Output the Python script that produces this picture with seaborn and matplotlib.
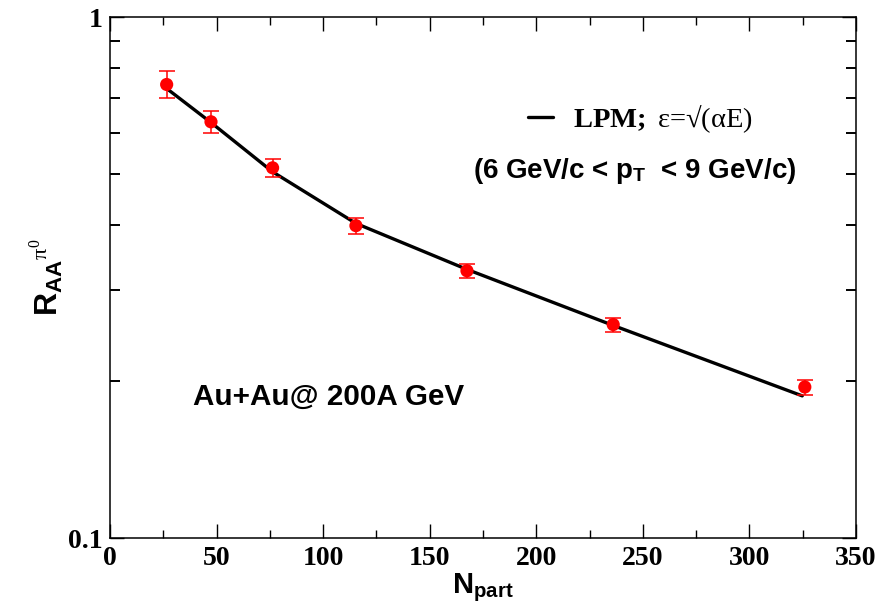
import matplotlib
matplotlib.use("Agg")
import matplotlib.pyplot as plt
from matplotlib.ticker import MultipleLocator, LogLocator, NullFormatter, FixedLocator
from matplotlib.lines import Line2D
import seaborn as sns
import pandas as pd

# PHENIX-like pi0 suppression vs centrality, 6 < pT < 9 GeV/c
npart = [26.6, 47.4, 76.3, 115.4, 167.5, 236.1, 326.0]
raa = [0.743, 0.630, 0.514, 0.398, 0.326, 0.257, 0.195]
raa_err = [0.044, 0.030, 0.020, 0.014, 0.010, 0.008, 0.0065]

# LPM energy-loss calculation, epsilon = sqrt(alpha E)
lpm_npart = [26.6, 47.4, 76.3, 115.4, 167.5, 236.1, 324.8]
lpm_raa = [0.730, 0.628, 0.505, 0.402, 0.328, 0.256, 0.1875]

xticks = [0, 50, 100, 150, 200, 250, 300, 350]
yticks = [0.1, 1]
ytick_labels = ["0.1", "1"]

sns.set_theme(style="ticks")
plt.rcParams["font.family"] = ["Liberation Sans", "DejaVu Sans"]
plt.rcParams["text.color"] = "black"
plt.rcParams["axes.labelcolor"] = "black"
plt.rcParams["xtick.color"] = "black"
plt.rcParams["ytick.color"] = "black"
plt.rcParams["mathtext.fontset"] = "custom"
plt.rcParams["mathtext.rm"] = "Liberation Serif"
plt.rcParams["mathtext.it"] = "Liberation Serif:italic"
plt.rcParams["mathtext.bf"] = "Liberation Serif:bold"
plt.rcParams["mathtext.sf"] = "Liberation Sans:bold"

fig = plt.figure(figsize=(8.79, 6.10), dpi=100)
ax = fig.add_axes([0.1251, 0.118, 0.8487, 0.8536])

df_lpm = pd.DataFrame({"npart": lpm_npart, "raa": lpm_raa})
sns.lineplot(data=df_lpm, x="npart", y="raa", ax=ax, color="black",
             linewidth=2.4, sort=False, legend=False)

ax.errorbar(npart, raa, yerr=raa_err, fmt="none", ecolor="red",
            elinewidth=1.1, capsize=5.5, capthick=1.1, zorder=3)
df_pts = pd.DataFrame({"npart": npart, "raa": raa})
sns.scatterplot(data=df_pts, x="npart", y="raa", ax=ax, color="red",
                s=90, edgecolor="none", zorder=4, legend=False)

ax.set_yscale("log")
ax.set_xlim(0, 350)
ax.set_ylim(0.1, 1)

ax.xaxis.set_major_locator(FixedLocator(xticks))
ax.xaxis.set_minor_locator(MultipleLocator(25))
ax.yaxis.set_major_locator(FixedLocator(yticks))
ax.set_yticklabels(ytick_labels)
ax.yaxis.set_minor_locator(LogLocator(base=10, subs=[2, 3, 4, 5, 6, 7, 8, 9]))
ax.yaxis.set_minor_formatter(NullFormatter())

ax.tick_params(which="both", direction="in", top=True, right=True,
               colors="black")
ax.tick_params(axis="x", which="major", length=10, width=1.0, pad=6)
ax.tick_params(axis="x", which="minor", length=5.5, width=1.0)
ax.tick_params(axis="y", which="major", length=10, width=1.0, pad=5)
ax.tick_params(axis="y", which="minor", length=7.5, width=1.4)

for lab in ax.get_xticklabels() + ax.get_yticklabels():
    lab.set_fontfamily("Liberation Serif")
    lab.set_fontweight("bold")
    lab.set_fontsize(20)
    lab.set_color("black")

for sp in ax.spines.values():
    sp.set_linewidth(1.1)
    sp.set_color("black")

ax.set_xlabel(r"$\mathsf{N}_{\mathsf{part}}$", fontsize=21, labelpad=0)
ax.set_ylabel(r"$\mathsf{R}_{\mathsf{AA}}{}^{\mathrm{\pi^{0}}}$",
              fontsize=23, labelpad=2)

handle = Line2D([], [], color="black", linewidth=2.4)
leg = ax.legend([handle], [r"$\mathbf{LPM;}$ ε=√(αE)"],
                loc="center left", bbox_to_anchor=(0.560, 0.806),
                frameon=False, borderpad=0, borderaxespad=0,
                handlelength=0.9, handletextpad=0.7,
                prop={"family": "Liberation Serif", "size": 20.5})

ax.text(0.4866, 0.691, r"(6 GeV/c < p$_\mathsf{T}$  < 9 GeV/c)",
        transform=ax.transAxes, fontsize=20, fontweight="bold",
        va="baseline", ha="left")
ax.text(0.111, 0.255, "Au+Au@ 200A GeV", transform=ax.transAxes,
        fontsize=21.3, fontweight="bold", va="baseline", ha="left")

fig.savefig("out.png", dpi=100)
